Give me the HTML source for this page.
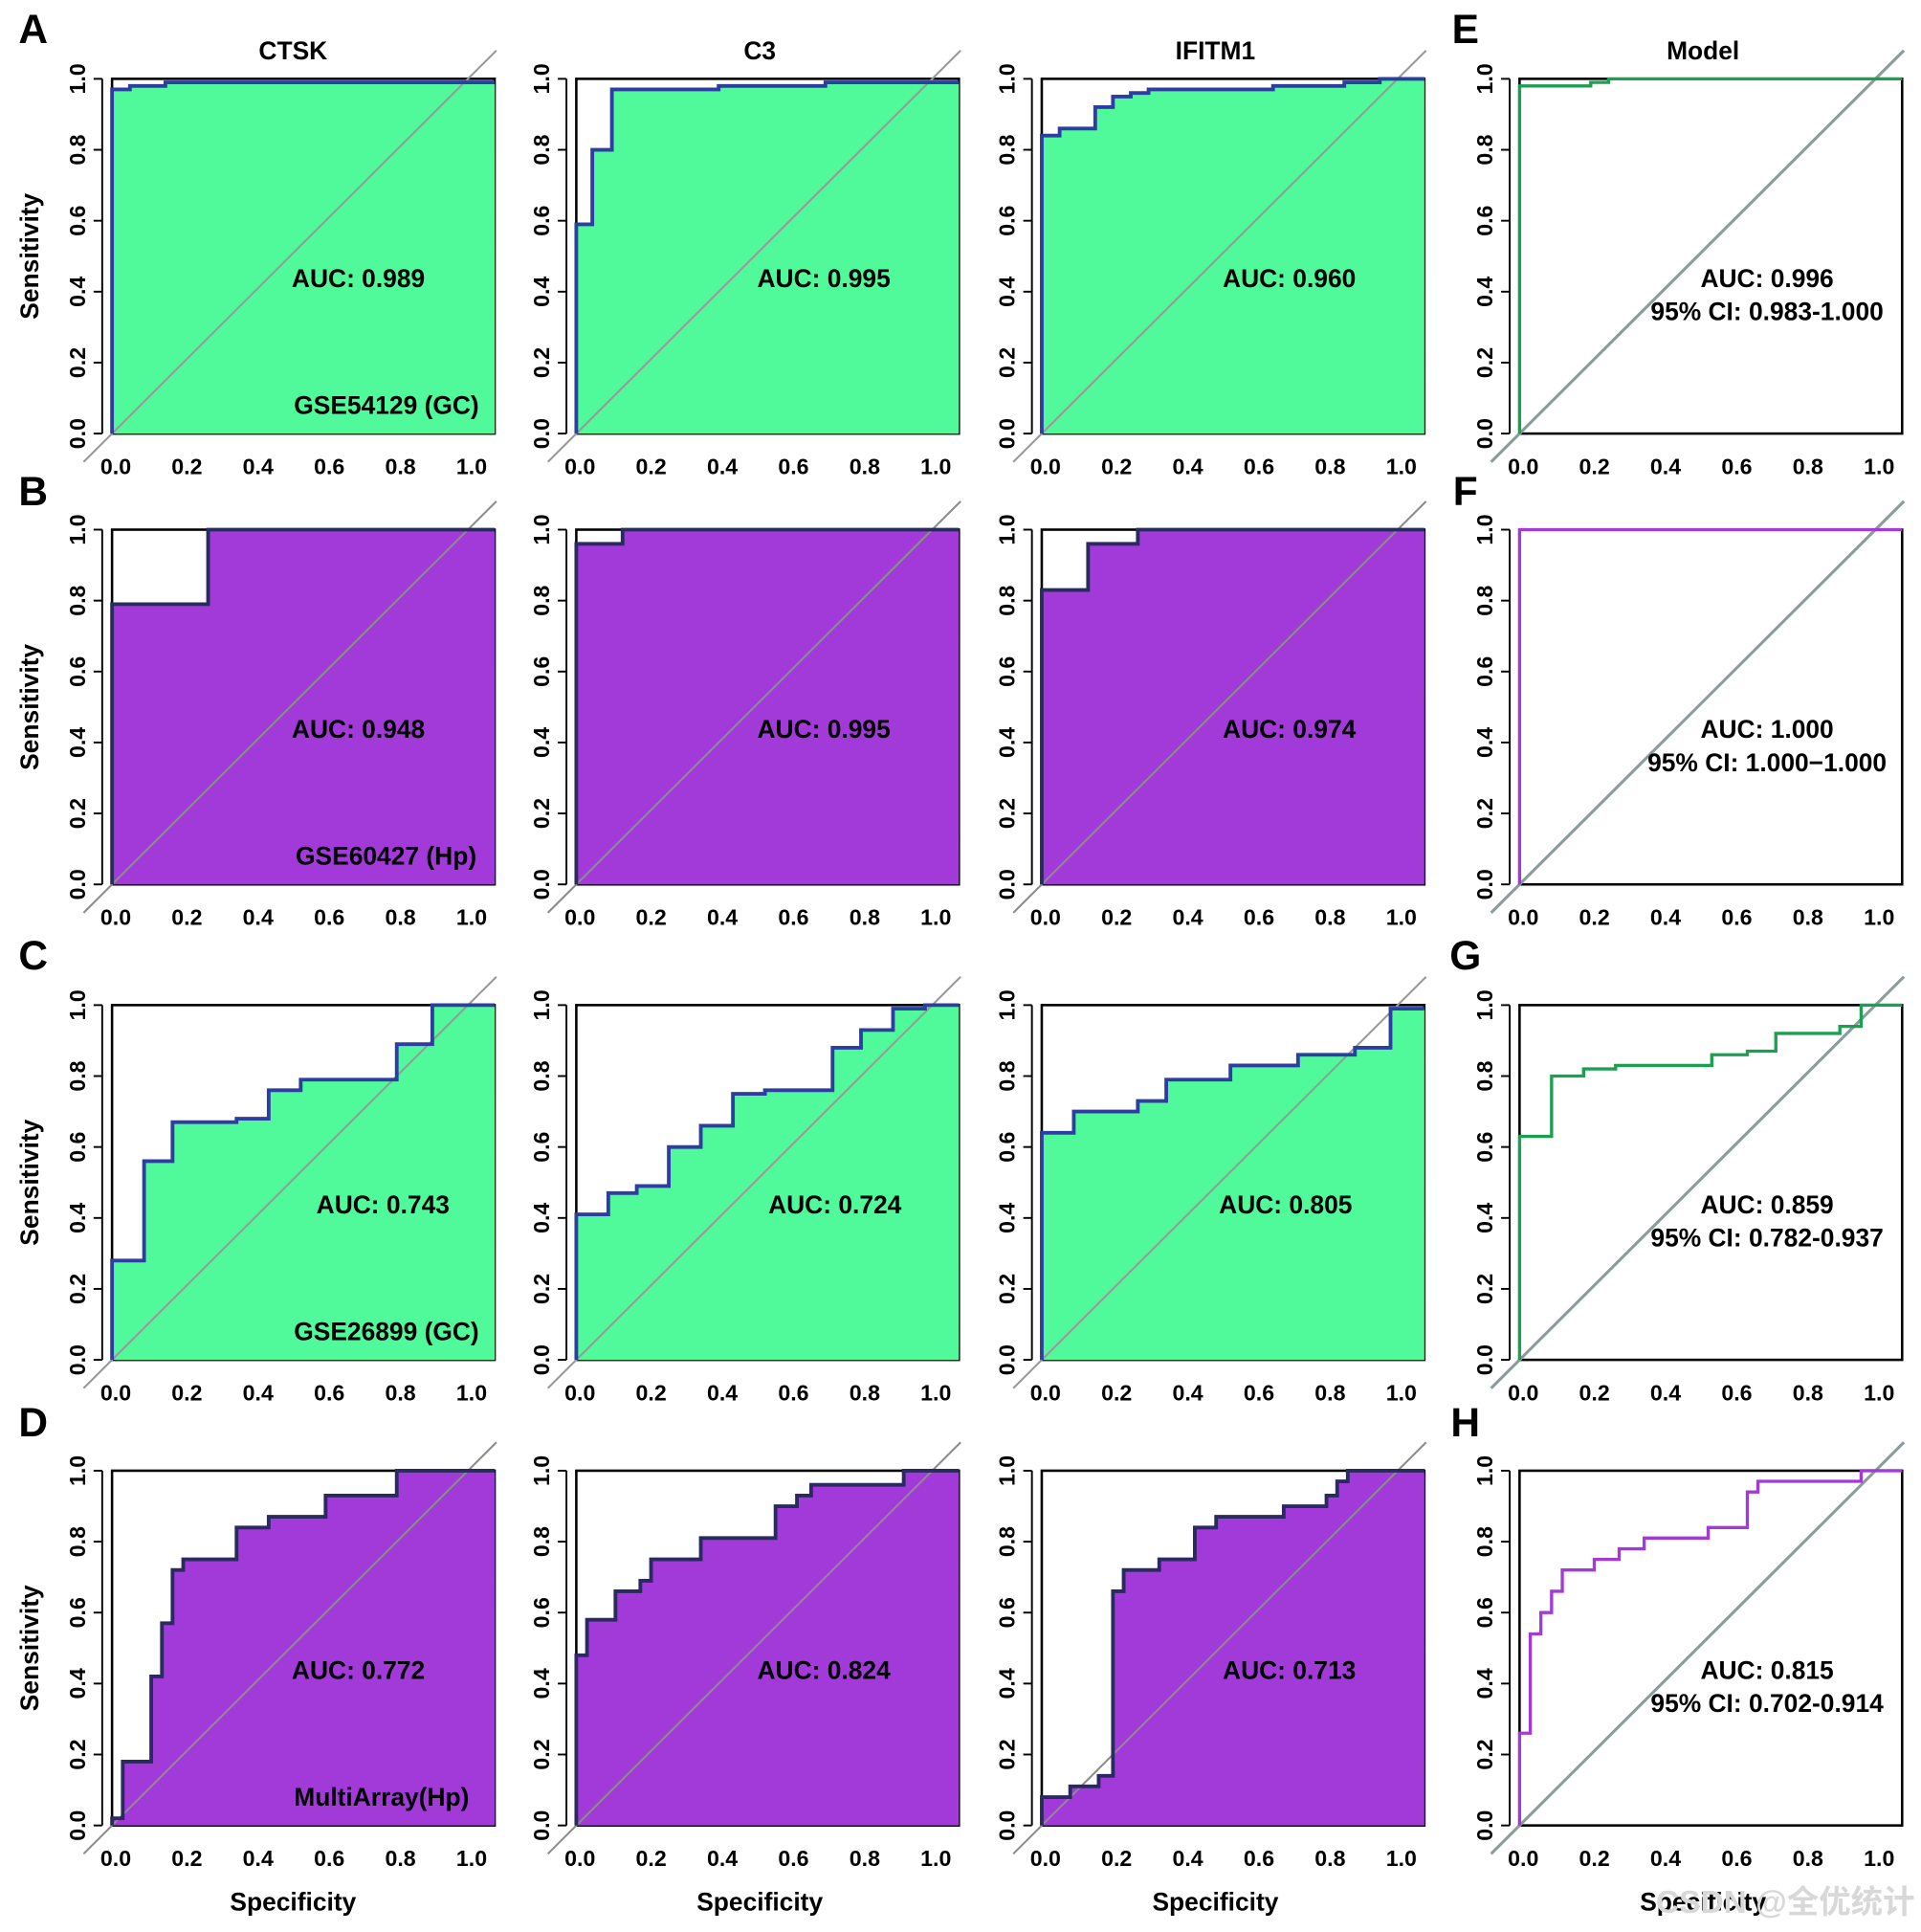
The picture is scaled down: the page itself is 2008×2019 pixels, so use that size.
<!DOCTYPE html>
<html><head><meta charset="utf-8">
<style>html,body{margin:0;padding:0;background:#fff}svg{display:block}text{font-family:"Liberation Sans","Noto Sans CJK SC",sans-serif;font-weight:bold}</style>
</head><body>
<svg id="c" width="2008" height="2019" viewBox="0 0 1560 1568.5" preserveAspectRatio="none" xmlns="http://www.w3.org/2000/svg"></svg>
<script>
// x breakpoints and sensitivity levels (y[i] holds from x[i] to x[i+1])
const A1x=[0,0.05,0.15],A1y=[0.97,0.98,0.99];
const A2x=[0,0.045,0.1,0.4,0.7],A2y=[0.59,0.8,0.97,0.98,0.99];
const A3x=[0,0.05,0.15,0.2,0.25,0.3,0.65,0.85,0.95],A3y=[0.84,0.86,0.92,0.95,0.96,0.97,0.98,0.99,1];
const Ex=[0,0.2,0.25],Ey=[0.98,0.99,1];
const B1x=[0,0.27],B1y=[0.79,1];
const B2x=[0,0.13],B2y=[0.96,1];
const B3x=[0,0.13,0.27],B3y=[0.83,0.96,1];
const Fx=[0],Fy=[1];
const C1x=[0,0.09,0.17,0.35,0.44,0.53,0.8,0.9],C1y=[0.28,0.56,0.67,0.68,0.76,0.79,0.89,1];
const C2x=[0,0.09,0.17,0.26,0.35,0.44,0.53,0.72,0.8,0.89,0.98],C2y=[0.41,0.47,0.49,0.6,0.66,0.75,0.76,0.88,0.93,0.99,1];
const C3x=[0,0.09,0.27,0.35,0.53,0.72,0.88,0.98],C3y=[0.64,0.7,0.73,0.79,0.83,0.86,0.88,0.99];
const Gx=[0,0.09,0.18,0.27,0.54,0.64,0.72,0.9,0.96],Gy=[0.63,0.8,0.82,0.83,0.86,0.87,0.92,0.94,1];
const D1x=[0,0.03,0.11,0.14,0.17,0.2,0.35,0.44,0.6,0.8],D1y=[0.02,0.18,0.42,0.57,0.72,0.75,0.84,0.87,0.93,1];
const D2x=[0,0.03,0.11,0.18,0.21,0.35,0.56,0.62,0.66,0.92],D2y=[0.48,0.58,0.66,0.69,0.75,0.81,0.9,0.93,0.96,1];
const D3x=[0,0.08,0.16,0.2,0.23,0.33,0.43,0.49,0.68,0.8,0.83,0.86],D3y=[0.08,0.11,0.14,0.66,0.72,0.75,0.84,0.87,0.9,0.93,0.97,1];
const Hx=[0,0.03,0.06,0.09,0.12,0.21,0.28,0.35,0.53,0.64,0.67,0.96],Hy=[0.26,0.54,0.6,0.66,0.72,0.75,0.78,0.81,0.84,0.94,0.97,1];
const aucs=["0.989","0.995","0.960","0.996","0.948","0.995","0.974","1.000","0.743","0.724","0.805","0.859","0.772","0.824","0.713","0.815"];
const cis=["0.983-1.000","1.000−1.000","0.782-0.937","0.702-0.914"];
const ticks=["0.0","0.2","0.4","0.6","0.8","1.0"];
const tickVals=[0,0.2,0.4,0.6,0.8,1];

const svg=document.getElementById('c');const NS="http://www.w3.org/2000/svg";
function el(t,a,txt){const e=document.createElementNS(NS,t);for(const k in a)e.setAttribute(k,a[k]);if(txt!=null)e.textContent=txt;svg.appendChild(e);return e;}
const colX=[91,468,846,1234],rowT=[64,430,816,1194],PW=289,PH=288,XMAX=1.075;
const panels=[[A1x,A1y],[A2x,A2y],[A3x,A3y],[Ex,Ey],[B1x,B1y],[B2x,B2y],[B3x,B3y],[Fx,Fy],[C1x,C1y],[C2x,C2y],[C3x,C3y],[Gx,Gy],[D1x,D1y],[D2x,D2y],[D3x,D3y],[Hx,Hy]];
const aucX=[[291,669,1047],[291,669,1047],[311,678,1044],[291,669,1047]];
panels.forEach((p,i)=>{
  const r=Math.floor(i/4),c=i%4,x0=colX[c],yt=rowT[r],yb=yt+PH;
  const sx=v=>x0+v*PW,sy=v=>yb-v*PH;
  const green=(r%2==0);
  let pts=[[sx(0),sy(0)]];
  p[0].forEach((xv,k)=>{const xe=k+1<p[0].length?p[0][k+1]:XMAX;pts.push([sx(xv),sy(p[1][k])]);pts.push([sx(xe),sy(p[1][k])]);});
  const d='M'+pts.map(q=>q[0].toFixed(1)+','+q[1].toFixed(1)).join('L');
  let e=el('rect',{x:x0,y:yt,width:XMAX*PW,height:PH,fill:'#fff',stroke:'#000','stroke-width':2});
  
  if(c<3){
    e=el('path',{d:d+'L'+sx(XMAX)+','+sy(0)+'Z',fill:green?'#50fa9a':'#a23ad9',stroke:'none'});
    
  }
  e=el('line',{x1:sx(-0.08),y1:sy(-0.08),x2:sx(1.08),y2:sy(1.08),stroke:c<3?(green?'#999':'#8c8c8c'):'#8c9c9c','stroke-width':c<3?1.6:2.4});
  
  e=el('path',{d:d,fill:'none',stroke:c<3?(green?'#2c3fa0':'#2a2a60'):(green?'#1aa050':'#a23ad9'),'stroke-width':c<3?3:2.6});
  
  e=el('line',{x1:x0-8,y1:sy(0),x2:x0-8,y2:sy(1),stroke:'#000','stroke-width':1.5});
  
  tickVals.forEach((v,k)=>{
    el('line',{x1:x0-8,y1:sy(v),x2:x0-15,y2:sy(v),stroke:'#000','stroke-width':1.5});
    e=el('text',{x:x0-22,y:sy(v),'font-size':18,'text-anchor':'middle',transform:`rotate(-90 ${x0-22} ${sy(v)})`},ticks[k]);
    
    e=el('text',{x:sx(v)+3,y:yb+33,'font-size':18,'text-anchor':'middle'},ticks[k]);
    
  });
  if(c<3){
    e=el('text',{x:aucX[r][c],y:yt+169,'font-size':20.5,'text-anchor':'middle'},'AUC: '+aucs[i]);
  }else{
    e=el('text',{x:1435,y:yt+169,'font-size':20.5,'text-anchor':'middle'},'AUC: '+aucs[i]);
    
    e=el('text',{x:1435,y:yt+196,'font-size':20.5,'text-anchor':'middle'},'95% CI: '+cis[r]);
  }
  
});
function t(x,y,s,txt,name,rot,anchor){const e=el('text',{x:x,y:y,'font-size':s,'text-anchor':anchor||'middle'},txt);if(rot)e.setAttribute('transform',`rotate(-90 ${x} ${y})`);}
[['A',35],['B',410],['C',787],['D',1166]].forEach(q=>t(27,q[1],33,q[0],'panel-letter'));
[['E',35],['F',410],['G',787],['H',1166]].forEach(q=>t(1190,q[1],33,q[0],'panel-letter'));
t(238,48,20.5,'CTSK','column-title');t(617,48,20.5,'C3','column-title');t(987,48,20.5,'IFITM1','column-title');t(1383,48,20.5,'Model','column-title');
rowT.forEach(y=>t(31,y+144,20.5,'Sensitivity','y-axis-title',true));
[238,617,987,1383].forEach(x=>t(x,1551,20.5,'Specificity','x-axis-title'));
t(389,336,20.5,'GSE54129 (GC)','dataset-label',false,'end');
t(387,702,20.5,'GSE60427 (Hp)','dataset-label',false,'end');
t(389,1088,20.5,'GSE26899 (GC)','dataset-label',false,'end');
t(381,1466,20.5,'MultiArray(Hp)','dataset-label',false,'end');
const w=el('text',{x:1555,y:1553,'font-size':26,'text-anchor':'end',fill:'#d8d8d8','font-weight':'normal'},'CSDN @全优统计');

</script>
</body></html>
